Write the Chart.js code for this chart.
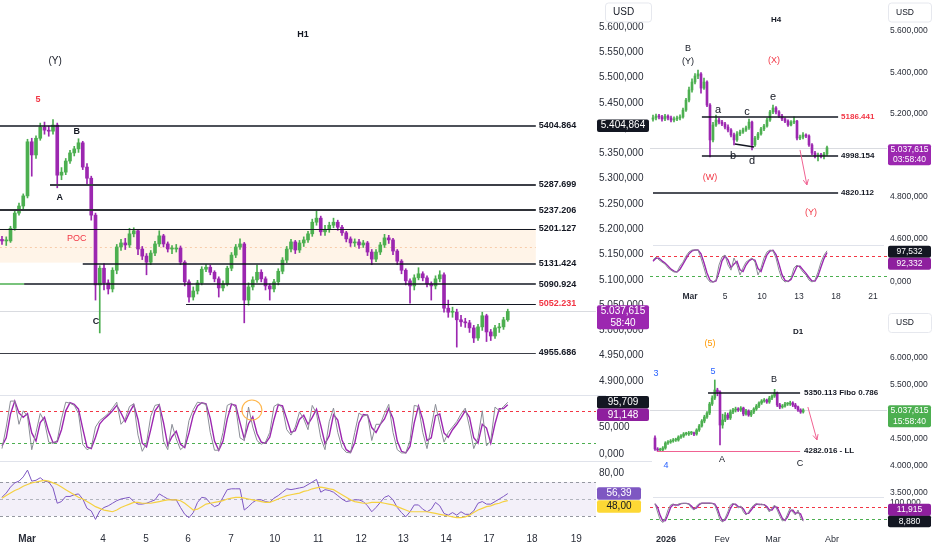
<!DOCTYPE html>
<html><head><meta charset="utf-8">
<script src="https://cdn.jsdelivr.net/npm/chart.js@4.4.1/dist/chart.umd.min.js"></script>
<style>
html,body{margin:0;padding:0;background:#fff;width:932px;height:550px;overflow:hidden;position:relative;}
canvas{position:absolute;}
</style></head><body>
<canvas id="h1p" style="left:0px;top:0px" width="652" height="395"></canvas>
<canvas id="h1s" style="left:0px;top:395px" width="652" height="66"></canvas>
<canvas id="h1r" style="left:0px;top:461px" width="652" height="89"></canvas>
<canvas id="h4p" style="left:650px;top:0px" width="282" height="245"></canvas>
<canvas id="h4s" style="left:650px;top:245px" width="282" height="61"></canvas>
<canvas id="d1p" style="left:650px;top:308px" width="282" height="189"></canvas>
<canvas id="d1s" style="left:650px;top:497px" width="282" height="53"></canvas>
<script>
// ================= DATA =================
// ---- H1 (one bar every ~2h) ----
const h1Open  = [5180,5177,5177,5202,5232,5246,5266,5373,5347,5380,5402,5396,5394,5406,5307,5313,5335,5351,5359,5371,5323,5301,5228,5090,5123,5094,5082,5119,5165,5173,5169,5191,5197,5161,5147,5135,5153,5171,5187,5171,5161,5161,5163,5135,5096,5066,5078,5094,5121,5125,5115,5102,5084,5092,5123,5149,5165,5171,5060,5086,5100,5115,5102,5088,5082,5096,5117,5139,5161,5175,5159,5173,5179,5191,5214,5222,5195,5200,5208,5214,5204,5193,5181,5173,5175,5169,5173,5155,5141,5155,5169,5183,5179,5157,5137,5119,5098,5088,5104,5112,5104,5092,5088,5102,5110,5044,5036,5036,5021,5017,5015,5005,4985,5007,5029,4997,4989,5005,5007,5021];
const h1High  = [5186,5185,5206,5236,5252,5270,5378,5380,5385,5410,5412,5404,5417,5410,5322,5340,5356,5364,5379,5374,5330,5305,5232,5128,5132,5100,5124,5170,5180,5182,5202,5203,5200,5166,5152,5158,5176,5197,5190,5175,5168,5170,5167,5138,5100,5086,5099,5126,5130,5129,5118,5106,5098,5127,5154,5170,5181,5174,5094,5106,5129,5120,5106,5092,5101,5122,5144,5166,5180,5178,5178,5185,5196,5220,5236,5226,5208,5214,5222,5218,5208,5196,5185,5181,5180,5178,5176,5160,5160,5174,5190,5188,5182,5160,5140,5122,5102,5110,5124,5116,5108,5096,5108,5118,5114,5060,5046,5042,5030,5024,5020,5010,5012,5036,5032,5002,5010,5014,5026,5042];
const h1Low   = [5170,5168,5174,5198,5228,5240,5262,5305,5340,5376,5388,5384,5388,5282,5298,5308,5330,5345,5352,5318,5290,5218,5060,4995,5080,5072,5076,5112,5158,5160,5164,5185,5150,5140,5110,5130,5148,5166,5165,5155,5152,5155,5130,5088,5056,5060,5072,5090,5116,5110,5096,5066,5078,5088,5118,5144,5160,5015,5050,5080,5095,5096,5080,5060,5076,5090,5112,5134,5155,5152,5154,5166,5174,5186,5208,5188,5188,5194,5203,5198,5188,5175,5166,5166,5162,5164,5148,5130,5136,5150,5164,5172,5150,5130,5112,5090,5054,5080,5100,5098,5086,5060,5082,5096,5036,5026,5026,4967,5008,5006,4996,4976,4980,5000,4978,4980,4984,4996,5002,5018];
const h1Close = [5177,5177,5202,5232,5246,5266,5373,5347,5380,5402,5396,5394,5406,5307,5313,5335,5351,5359,5371,5323,5301,5228,5090,5123,5094,5082,5119,5165,5173,5169,5191,5197,5161,5147,5135,5153,5171,5187,5171,5161,5161,5163,5135,5096,5066,5078,5094,5121,5125,5115,5102,5084,5092,5123,5149,5165,5171,5060,5086,5100,5115,5102,5088,5082,5096,5117,5139,5161,5175,5159,5173,5179,5191,5214,5222,5195,5200,5208,5214,5204,5193,5181,5173,5175,5169,5173,5155,5141,5155,5169,5183,5179,5157,5137,5119,5098,5088,5104,5112,5104,5092,5088,5102,5110,5044,5036,5036,5021,5017,5015,5005,4985,5007,5029,4997,4989,5005,5007,5021,5037.615];
const h1StochK = [10,50,98,98,55,80,70,8,40,75,60,22,20,25,65,96,94,90,75,18,8,12,50,62,68,75,85,96,55,65,88,93,35,5,20,70,90,92,24,8,55,28,8,15,62,82,96,94,92,40,7,7,40,90,94,86,30,25,87,50,25,18,22,40,88,93,85,45,35,50,78,65,45,90,75,30,8,60,85,40,12,3,2,40,76,70,73,25,55,55,75,92,40,8,2,2,25,90,88,40,10,50,92,55,22,40,50,60,74,85,50,10,30,80,15,25,87,80,88,95.709];
const h1StochD = [15,30,74,98,76,68,75,39,24,58,68,41,21,23,45,80,95,92,83,47,13,10,31,56,65,72,80,90,76,60,77,91,64,20,13,45,80,91,58,16,32,42,18,12,39,72,89,95,93,66,24,7,24,65,92,90,58,28,56,69,38,22,20,31,64,91,89,65,40,43,64,72,55,68,83,53,19,34,73,63,26,8,3,21,58,73,72,49,40,55,65,84,66,24,5,2,14,58,89,64,25,30,71,74,39,31,45,55,67,80,68,30,20,55,48,20,56,84,84,91.148];
const h1Rsi = [52,57,64,69,71,76,84,71,72,75,71,70,63,45,47,53,53,55,56,50,39,36,26,36,40,42,45,48,50,51,52,47,44,44,45,47,49,56,53,50,49,49,40,32,28,34,46,52,51,45,41,43,52,61,62,62,62,37,41,46,49,49,47,46,51,54,58,62,61,62,63,64,67,70,73,58,61,60,58,54,50,47,48,49,49,47,42,35,40,46,52,54,49,40,34,29,35,43,43,38,35,38,46,42,33,31,34,31,35,32,32,36,45,47,44,44,47,50,53,56.39];
const h1RsiMa = [51,54,57,60,62,65,67,69,70,71,72,71,69,67,64,61,58,55,52,50,47,44,41,39,37,36,35,37,40,42,44,46,46,45,45,45,46,47,48,49,49,49,48,45,41,37,38,41,44,45,46,47,48,50,51,52,52,51,50,49,48,47,46,46,48,50,52,54,55,56,57,59,60,62,63,64,63,62,61,58,55,52,49,47,46,45,45,46,46,46,45,44,43,41,39,37,35,35,35,35,35,34,33,32,31,30,29,28,28,29,31,34,37,39,41,42,44,45,47,48];
const h1PriceTicks = [4900,4950,5000,5050,5100,5150,5200,5250,5300,5350,5400,5450,5500,5550,5600];
const h1DateTickPos = [5.9,23.8,33.9,43.8,53.9,64.2,74.4,84.5,94.4,104.5,114.6,124.7,135.1];
const h1DateTickLabels = ['Mar','4','5','6','7','10','11','12','13','14','17','18','19'];
const h1Levels = [5404.864,5287.699,5237.206,5201.127,5131.424,5090.924,5052.231,4955.686];
const h1PocZone = [5134,5201.127];
const h1PocLevel = 5165;
const h1Marked = 5404.864;

// ---- H4 ----
const h4Open  = [5175,5181,5190,5186,5176,5190,5181,5171,5176,5181,5186,5219,5267,5316,5354,5383,5393,5325,5354,5243,5075,5147,5171,5161,5152,5137,5123,5099,5075,5104,5113,5123,5133,5161,5051,5084,5104,5128,5142,5171,5210,5229,5210,5190,5176,5166,5147,5161,5166,5084,5089,5099,5094,5051,5012,4998,5002,4998,5007];
const h4High  = [5195,5200,5198,5194,5198,5196,5190,5186,5190,5196,5228,5276,5330,5370,5395,5412,5400,5373,5360,5250,5160,5195,5180,5170,5160,5148,5130,5108,5115,5122,5132,5142,5176,5166,5092,5112,5136,5150,5180,5218,5243,5236,5216,5198,5182,5172,5168,5186,5170,5098,5110,5104,5100,5058,5020,5012,5010,5015,5045];
const h4Low   = [5166,5172,5176,5166,5168,5172,5162,5162,5168,5172,5180,5212,5258,5305,5345,5370,5300,5318,5235,4993,5066,5140,5152,5144,5128,5114,5090,5051,5068,5096,5106,5116,5126,5027,5044,5076,5098,5120,5136,5164,5202,5200,5182,5168,5158,5140,5142,5154,5075,5076,5080,5086,5044,5004,4988,4974,4988,4983,5000];
const h4Close = [5181,5190,5186,5176,5190,5181,5171,5176,5181,5186,5219,5267,5316,5354,5383,5393,5325,5354,5243,5075,5147,5171,5161,5152,5137,5123,5099,5075,5104,5113,5123,5133,5161,5051,5084,5104,5128,5142,5171,5210,5229,5210,5190,5176,5166,5147,5161,5166,5084,5089,5099,5094,5051,5012,4998,5002,4998,5007,5037.615];
const h4StochK = [69,78,69,62,56,44,37,31,31,50,62,81,94,100,100,100,75,44,12,0,0,6,53,78,84,53,37,75,53,22,44,62,69,75,62,22,44,75,94,100,97,75,37,9,0,3,12,44,53,44,31,22,6,0,6,31,62,84,97.532];
const h4StochD = [65,74,74,66,59,50,40,34,31,40,56,72,88,97,100,100,88,60,28,6,0,3,30,66,81,69,45,56,64,38,33,53,66,72,68,42,33,60,85,97,99,86,56,23,5,2,8,28,49,49,38,27,14,3,3,19,47,73,92.332];
const h4PriceTicks = [4600,4800,5200,5400,5600];
const h4DateTickPos = [12.33,24,36.33,48.67,61,73.33];
const h4DateTickLabels = ['Mar','5','10','13','18','21'];
const h4Levels = [5186.441,4998.154,4820.112];

// ---- D1 ----
const d1Open  = [4519,4315,4296,4296,4333,4426,4444,4463,4481,4481,4537,4556,4593,4593,4611,4611,4593,4667,4741,4833,4907,4981,5148,5259,5407,5370,4759,4852,4944,4889,5000,5037,5056,5037,5074,4963,5019,4944,5000,5056,5111,5167,5204,5222,5185,5259,5296,5352,5130,5093,5111,5148,5148,5167,5130,5093,5037,5000];
const d1High  = [4560,4340,4330,4360,4450,4470,4490,4510,4515,4560,4580,4620,4625,4640,4640,4630,4690,4770,4860,4940,5010,5180,5300,5593,5440,5390,4960,4990,4980,5040,5070,5090,5080,5100,5090,5050,5040,5030,5080,5140,5190,5230,5250,5240,5290,5320,5420,5370,5160,5140,5180,5175,5200,5190,5160,5110,5060,5060];
const d1Low   = [4290,4270,4282,4275,4310,4400,4420,4440,4455,4460,4510,4530,4570,4565,4580,4560,4570,4640,4720,4800,4880,4950,5120,5230,5300,4389,4700,4820,4860,4860,4970,5000,5010,5010,4930,4940,4920,4915,4970,5030,5080,5140,5180,5160,5160,5230,5270,5100,5060,5070,5090,5120,5120,5100,5060,5010,4975,4980];
const d1Close = [4315,4296,4296,4333,4426,4444,4463,4481,4481,4537,4556,4593,4593,4611,4611,4593,4667,4741,4833,4907,4981,5148,5259,5407,5370,4759,4852,4944,4889,5000,5037,5056,5037,5074,4963,5019,4944,5000,5056,5111,5167,5204,5222,5185,5259,5296,5352,5130,5093,5111,5148,5148,5167,5130,5093,5037,5000,5037.615];
const d1StochK = [98,55,15,2,25,65,90,95,85,95,98,98,98,95,75,65,85,98,99,99,99,99,98,90,55,15,5,25,55,90,98,90,75,85,55,40,55,75,90,98,90,95,90,75,55,75,90,65,35,10,15,45,75,55,40,65,25,8.88];
const d1StochD = [95,78,38,10,12,42,78,92,90,90,97,98,98,96,85,70,75,92,99,99,99,99,98,94,73,35,10,15,40,72,94,94,82,80,70,47,48,65,82,94,94,92,92,82,65,65,82,78,50,22,12,30,60,65,48,52,45,11.915];
const d1PriceTicks = [3500,4000,4500,5500,6000];
const d1DateTickPos = [4.2,25.8,45.4,68.1];
const d1DateTickLabels = ['2026','Fev','Mar','Abr'];
const d1Levels = [5350.113,4282.016];

// ================= STYLE / LAYOUT =================
const F = '"Liberation Sans", Arial, sans-serif';
const UP = '#4caf50', DN = '#9c27b0';
const TXT = '#131722';
const PINK = '#f06292';
const RED = '#f23645';

function fmtDE(v, d) {
  const s = Math.abs(v).toFixed(d);
  const p = s.split('.');
  const int = p[0].replace(/\B(?=(\d{3})+(?!\d))/g, '.');
  return (v < 0 ? '-' : '') + (p[1] ? int + ',' + p[1] : int);
}
const last = a => a[a.length - 1];

const annotPlugin = {
  id: 'annot',
  beforeDatasetsDraw(c, a, o) { drawItems(c, o.under, o); },
  afterDatasetsDraw(c, a, o) { drawItems(c, o.over, o); },
  afterDraw(c, a, o) { drawItems(c, o.top, o); }
};
function drawItems(c, items, o) {
  if (!items) return;
  const ctx = c.ctx, xs = c.scales.x, ys = c.scales.y, ca = c.chartArea;
  const X = v => xs.getPixelForValue(v);
  const Y = v => ys.getPixelForValue(v);
  const bf = o.boxFont || 10, lh = o.boxLine || 11.5;
  for (const it of items) {
    ctx.save();
    if (it.t === 'hline') {
      const x0 = it.x0 === undefined ? ca.left : X(it.x0);
      const x1 = it.x1 === undefined ? ca.right : X(it.x1);
      const w = it.w || 1;
      const y = Math.round(Y(it.y)) + ((Math.round(w) % 2) ? 0.5 : 0);
      ctx.strokeStyle = it.c; ctx.lineWidth = w; ctx.setLineDash(it.dash || []);
      ctx.beginPath(); ctx.moveTo(x0, y); ctx.lineTo(x1, y); ctx.stroke();
    } else if (it.t === 'rect') {
      const x0 = it.x0 === undefined ? ca.left : X(it.x0);
      const x1 = it.x1 === undefined ? ca.right : X(it.x1);
      const y0 = Y(it.y0), y1 = Y(it.y1);
      ctx.fillStyle = it.c; ctx.fillRect(x0, Math.min(y0, y1), x1 - x0, Math.abs(y1 - y0));
    } else if (it.t === 'seg') {
      const x0 = X(it.x0), y0 = Y(it.y0), x1 = X(it.x1), y1 = Y(it.y1);
      ctx.strokeStyle = it.c; ctx.lineWidth = it.w || 1;
      ctx.beginPath(); ctx.moveTo(x0, y0); ctx.lineTo(x1, y1); ctx.stroke();
      if (it.arrow) {
        const ang = Math.atan2(y1 - y0, x1 - x0), L = it.arrow;
        ctx.beginPath();
        ctx.moveTo(x1 - L * Math.cos(ang - 0.45), y1 - L * Math.sin(ang - 0.45));
        ctx.lineTo(x1, y1);
        ctx.lineTo(x1 - L * Math.cos(ang + 0.45), y1 - L * Math.sin(ang + 0.45));
        ctx.stroke();
      }
    } else if (it.t === 'text') {
      ctx.font = it.f; ctx.fillStyle = it.c || TXT;
      ctx.textAlign = it.a || 'center'; ctx.textBaseline = 'middle';
      ctx.fillText(it.s, X(it.x), Y(it.y));
    } else if (it.t === 'circle') {
      ctx.strokeStyle = it.c; ctx.lineWidth = it.w || 1;
      ctx.beginPath(); ctx.arc(X(it.x), Y(it.y), it.r, 0, Math.PI * 2); ctx.stroke();
    } else if (it.t === 'box') {
      const bx = ca.right + (it.dx || 1);
      const bw = it.bw || (c.width - ca.right - 2);
      const cy = Y(it.yref !== undefined ? it.yref : it.y) + (it.dy || 0);
      const top = cy - lh / 2 - 0.5, h = it.lines.length * lh + 1;
      ctx.fillStyle = it.bg;
      ctx.beginPath();
      if (ctx.roundRect) ctx.roundRect(bx, top, bw, h, 2); else ctx.rect(bx, top, bw, h);
      ctx.fill();
      ctx.fillStyle = it.fg; ctx.font = bf + 'px ' + F;
      ctx.textAlign = 'center'; ctx.textBaseline = 'middle';
      it.lines.forEach((s, k) => ctx.fillText(s, bx + bw / 2, cy + k * lh));
    } else if (it.t === 'usd') {
      const bx = ca.right + it.dx, bw = c.width - bx - 1;
      const cy = Y(it.y);
      ctx.fillStyle = '#fff'; ctx.strokeStyle = '#e6e8ee'; ctx.lineWidth = 1;
      ctx.beginPath();
      if (ctx.roundRect) ctx.roundRect(bx + 0.5, cy - 9.5, bw, 19, 3); else ctx.rect(bx + 0.5, cy - 9.5, bw, 19);
      ctx.fill(); ctx.stroke();
      ctx.fillStyle = TXT; ctx.font = bf + 'px ' + F; ctx.textAlign = 'left'; ctx.textBaseline = 'middle';
      ctx.fillText('USD', bx + 8, cy);
    } else if (it.t === 'sep') {
      ctx.strokeStyle = it.c || '#e0e3eb'; ctx.lineWidth = 1;
      const y = Math.round(ca.top) + 0.5;
      ctx.beginPath(); ctx.moveTo(it.x0, y); ctx.lineTo(it.x1, y); ctx.stroke();
    }
    ctx.restore();
  }
}

function candleSets(o, h, l, c, bodyW) {
  const col = c.map((v, i) => (v >= o[i] ? UP : DN));
  return [
    { type: 'bar', data: l.map((v, i) => ({ x: i, y: [v, h[i]] })), backgroundColor: col, borderWidth: 0, barThickness: 1, grouped: false, order: 2 },
    { type: 'bar', data: o.map((v, i) => ({ x: i, y: [v, c[i]] })), backgroundColor: col, borderWidth: 0, barThickness: bodyW, minBarLength: 1, grouped: false, order: 1 }
  ];
}
function lineSet(vals, color, w) {
  return { type: 'line', data: vals.map((v, i) => ({ x: i, y: v })), borderColor: color, borderWidth: w, pointRadius: 0, tension: 0, fill: false };
}
function yAxis(min, max, ticks, dec, width, fs) {
  return {
    position: 'right', min, max, bounds: 'data',
    grid: { display: false, drawTicks: false }, border: { display: false },
    ticks: { padding: 3, color: '#2a2e39', font: { size: fs || 10, family: F }, autoSkip: false, callback: v => fmtDE(v, dec) },
    afterBuildTicks: s => { s.ticks = ticks.map(v => ({ value: v })); },
    afterFit: s => { s.width = width; s.paddingTop = 0; s.paddingBottom = 0; }
  };
}
function xAxis(min, max, pos, labels, bold, h, pad, fs) {
  const base = { type: 'linear', min, max, bounds: 'data', offset: false, grid: { display: false, drawTicks: false }, border: { display: false } };
  if (!pos) return Object.assign(base, { display: false });
  return Object.assign(base, {
    display: true,
    ticks: {
      autoSkip: false, maxRotation: 0, minRotation: 0, padding: pad, color: '#2a2e39',
      font: ctx => ({ size: fs || 10, family: F, weight: bold.includes(labels[ctx.index]) ? 'bold' : 'normal' }),
      callback: (v, i) => labels[i]
    },
    afterBuildTicks: s => { s.ticks = pos.map(v => ({ value: v })); },
    afterFit: s => { s.height = h; s.paddingLeft = 0; s.paddingRight = 0; }
  });
}
function mk(id, type, datasets, x, y, annot) {
  return new Chart(document.getElementById(id), {
    type, data: { datasets },
    options: {
      responsive: false, animation: false, events: [], layout: { padding: 0 },
      scales: { x, y },
      plugins: { legend: { display: false }, tooltip: { enabled: false }, annot }
    },
    plugins: [annotPlugin]
  });
}

// ---------- H1 price ----------
const H1X = [-0.47, 139.76];
const h1LevelLayout = { start: [-0.5, 11.3, -0.5, -0.5, 19, 5.2, 43.3, -0.5], width: [1.5, 2, 2, 1.2, 1.5, 1.5, 1.2, 1.2], color: ['#131722', '#3c3f47', '#2f3238', '#131722', '#131722', '#131722', '#131722', '#3c3f47'], label: [TXT, TXT, TXT, TXT, TXT, TXT, RED, TXT], end: 125.6, labelX: 126.3 };
const LB = 'bold 9px ' + F;
const LS = 'bold 8px ' + F;
const h1Over = [];
h1Levels.forEach((v, k) => {
  h1Over.push({ t: 'hline', y: v, x0: h1LevelLayout.start[k], x1: h1LevelLayout.end, c: h1LevelLayout.color[k], w: h1LevelLayout.width[k] });
  h1Over.push({ t: 'text', x: h1LevelLayout.labelX, y: v, s: v.toFixed(3), c: h1LevelLayout.label[k], f: LB, a: 'left' });
});
h1Over.push({ t: 'hline', y: h1Levels[5], x0: -0.5, x1: 5.2, c: '#4caf50', w: 1.5 });
h1Over.push(
  { t: 'text', x: 70.8, y: 5586, s: 'H1', f: LB },
  { t: 'text', x: 12.5, y: 5533, s: '(Y)', f: '10px ' + F },
  { t: 'text', x: 8.5, y: 5456, s: '5', f: LB, c: RED },
  { t: 'text', x: 17.6, y: 5394, s: 'B', f: LB },
  { t: 'text', x: 13.6, y: 5262, s: 'A', f: LB },
  { t: 'text', x: 22.1, y: 5017, s: 'C', f: LB },
  { t: 'text', x: 17.6, y: 5181, s: 'POC', f: '9px ' + F, c: RED }
);
mk('h1p', 'bar', candleSets(h1Open, h1High, h1Low, h1Close, 3),
  xAxis(H1X[0], H1X[1]), yAxis(4872.30, 5653.39, h1PriceTicks, 3, 56), {
    under: [
      { t: 'rect', x0: -0.5, x1: h1LevelLayout.end, y0: h1PocZone[0], y1: h1PocZone[1], c: 'rgba(255,190,120,0.17)' },
      { t: 'hline', y: h1PocLevel, x0: -0.5, x1: h1LevelLayout.end, c: 'rgba(240,170,120,0.55)', w: 1, dash: [2, 3] },
      { t: 'hline', y: last(h1Close), c: '#d9dbe0', w: 1 }
    ],
    over: h1Over,
    top: [
      { t: 'usd', y: 5628.7, dx: 9 },
      { t: 'box', y: h1Marked, lines: [fmtDE(h1Marked, 3)], bg: '#131722', fg: '#fff', bw: 52 },
      { t: 'box', y: last(h1Close), lines: [fmtDE(last(h1Close), 3), '58:40'], bg: '#9c27b0', fg: '#fff', bw: 52 }
    ]
  });

// ---------- H1 stochastic ----------
mk('h1s', 'line', [lineSet(h1StochK, '#8a8d96', 1), lineSet(h1StochD, '#9c27b0', 1.4)],
  xAxis(H1X[0], H1X[1]), yAxis(-12.96, 109.26, [0, 50], 3, 56), {
    under: [
      { t: 'sep', x0: 0, x1: 606 },
      { t: 'hline', y: 80, c: RED, w: 1, dash: [3, 3] },
      { t: 'hline', y: 20, c: '#4caf50', w: 1, dash: [3, 3] }
    ],
    over: [{ t: 'circle', x: 58.8, y: 81.5, r: 10, c: '#ffb74d', w: 1.2 }],
    top: [
      { t: 'box', y: last(h1StochK), lines: [fmtDE(last(h1StochK), 3)], bg: '#131722', fg: '#fff', bw: 52 },
      { t: 'box', y: last(h1StochD), yref: last(h1StochK), dy: 12.5, lines: [fmtDE(last(h1StochD), 3)], bg: '#8e1f9e', fg: '#fff', bw: 52 }
    ]
  });

// ---------- H1 RSI + date axis ----------
mk('h1r', 'line', [lineSet(h1RsiMa, '#f5d142', 1.2), lineSet(h1Rsi, '#7e57c2', 1)],
  xAxis(H1X[0], H1X[1], h1DateTickPos, h1DateTickLabels, ['Mar'], 20, 3), yAxis(13.53, 94.7, [80], 2, 56), {
    under: [
      { t: 'sep', x0: 0, x1: 652 },
      { t: 'rect', y0: 30, y1: 70, c: 'rgba(126,87,194,0.09)' },
      { t: 'hline', y: 70, c: '#9598a1', w: 1, dash: [3, 3] },
      { t: 'hline', y: 50, c: '#b2b5be', w: 1, dash: [3, 3] },
      { t: 'hline', y: 30, c: '#9598a1', w: 1, dash: [3, 3] }
    ],
    top: [
      { t: 'box', y: last(h1Rsi), lines: [fmtDE(last(h1Rsi), 2)], bg: '#7e57c2', fg: '#fff', bw: 44 },
      { t: 'box', y: last(h1RsiMa), yref: last(h1Rsi), dy: 13, lines: [fmtDE(last(h1RsiMa), 2)], bg: '#fdd835', fg: TXT, bw: 44 }
    ]
  });

// ---------- H4 price ----------
const H4X = [-1, 78];
const h4Layout = { start: [16.3, 16.3, 0], end: 61.7, labelX: 62.7, label: [RED, TXT, TXT] };
const h4Over = [];
h4Levels.forEach((v, k) => {
  h4Over.push({ t: 'hline', y: v, x0: h4Layout.start[k], x1: h4Layout.end, c: '#131722', w: 1.5 });
  h4Over.push({ t: 'text', x: h4Layout.labelX, y: v, s: v.toFixed(3), c: h4Layout.label[k], f: LS, a: 'left' });
});
h4Over.push(
  { t: 'seg', x0: 27.3, y0: 5055, x1: 33.7, y1: 5041, c: '#131722', w: 1.5 },
  { t: 'seg', x0: 49, y0: 5027, x1: 51.3, y1: 4858, c: PINK, w: 1, arrow: 6 },
  { t: 'text', x: 41, y: 5653, s: 'H4', f: LS },
  { t: 'text', x: 11.7, y: 5518, s: 'B', f: '9px ' + F },
  { t: 'text', x: 11.7, y: 5455, s: '(Y)', f: '9px ' + F },
  { t: 'text', x: 40.3, y: 5460, s: '(X)', f: '9px ' + F, c: RED },
  { t: 'text', x: 21.7, y: 5219, s: 'a', f: '11px ' + F },
  { t: 'text', x: 31.3, y: 5210, s: 'c', f: '11px ' + F },
  { t: 'text', x: 40, y: 5282, s: 'e', f: '11px ' + F },
  { t: 'text', x: 26.7, y: 4998, s: 'b', f: '11px ' + F },
  { t: 'text', x: 33, y: 4973, s: 'd', f: '11px ' + F },
  { t: 'text', x: 19, y: 4892, s: '(W)', f: '9px ' + F, c: RED },
  { t: 'text', x: 52.7, y: 4723, s: '(Y)', f: '9px ' + F, c: RED }
);
mk('h4p', 'bar', candleSets(h4Open, h4High, h4Low, h4Close, 2),
  xAxis(H4X[0], H4X[1]), yAxis(4568.7, 5749.4, h4PriceTicks, 3, 45, 8.5), {
    boxFont: 8.5, boxLine: 10,
    under: [{ t: 'hline', y: last(h4Close), c: '#d9dbe0', w: 1 }],
    over: h4Over,
    top: [
      { t: 'usd', y: 5689, dx: 1 },
      { t: 'box', y: last(h4Close), dy: 2, lines: [fmtDE(last(h4Close), 3), '03:58:40'], bg: '#9c27b0', fg: '#fff' }
    ]
  });

// ---------- H4 stochastic ----------
mk('h4s', 'line', [lineSet(h4StochK, '#8a8d96', 1), lineSet(h4StochD, '#9c27b0', 1.4)],
  xAxis(H4X[0], H4X[1], h4DateTickPos, h4DateTickLabels, ['Mar'], 16, 2, 8.5), yAxis(-25, 115.6, [0], 3, 45, 8.5), {
    boxFont: 8.5, boxLine: 11,
    under: [
      { t: 'sep', x0: 3, x1: 234 },
      { t: 'hline', y: 80, c: RED, w: 1, dash: [3, 3] },
      { t: 'hline', y: 20, c: '#4caf50', w: 1, dash: [3, 3] }
    ],
    top: [
      { t: 'box', y: last(h4StochK), dy: 1, lines: [fmtDE(last(h4StochK), 3)], bg: '#131722', fg: '#fff' },
      { t: 'box', y: last(h4StochD), yref: last(h4StochK), dy: 13, lines: [fmtDE(last(h4StochD), 3)], bg: '#8e1f9e', fg: '#fff' }
    ]
  });

// ---------- D1 price ----------
const D1X = [-1.92, 89.23];
const d1Layout = { start: [20.4, 0.8], end: 55.8, labelX: 57.3, text: [' Fibo 0.786', ' - LL'], color: ['#131722', PINK], width: [1.5, 1] };
const d1Over = [];
d1Levels.forEach((v, k) => {
  d1Over.push({ t: 'hline', y: v, x0: d1Layout.start[k], x1: d1Layout.end, c: d1Layout.color[k], w: d1Layout.width[k] });
  d1Over.push({ t: 'text', x: d1Layout.labelX, y: v, s: v.toFixed(3) + d1Layout.text[k], c: TXT, f: LS, a: 'left' });
});
d1Over.push(
  { t: 'seg', x0: 58.8, y0: 5093, x1: 62.3, y1: 4481, c: PINK, w: 1, arrow: 6 },
  { t: 'text', x: 55, y: 6482, s: 'D1', f: LS },
  { t: 'text', x: 21.2, y: 6259, s: '(5)', f: '9px ' + F, c: '#ff9800' },
  { t: 'text', x: 22.3, y: 5741, s: '5', f: '9px ' + F, c: '#2962ff' },
  { t: 'text', x: 0.4, y: 5704, s: '3', f: '9px ' + F, c: '#2962ff' },
  { t: 'text', x: 4.2, y: 4018, s: '4', f: '9px ' + F, c: '#2962ff' },
  { t: 'text', x: 25.8, y: 4111, s: 'A', f: '9px ' + F },
  { t: 'text', x: 45.8, y: 5593, s: 'B', f: '9px ' + F },
  { t: 'text', x: 55.8, y: 4037, s: 'C', f: '9px ' + F }
);
mk('d1p', 'bar', candleSets(d1Open, d1High, d1Low, d1Close, 2),
  xAxis(D1X[0], D1X[1]), yAxis(3425.9, 6925.9, d1PriceTicks, 3, 45, 8.5), {
    boxFont: 8.5, boxLine: 10.5,
    under: [{ t: 'hline', y: last(d1Close), c: '#d9dbe0', w: 1 }],
    over: d1Over,
    top: [
      { t: 'usd', y: 6648, dx: 1 },
      { t: 'box', y: last(d1Close), dy: 1, lines: [fmtDE(last(d1Close), 3), '15:58:40'], bg: '#4caf50', fg: '#fff' }
    ]
  });

// ---------- D1 stochastic ----------
mk('d1s', 'line', [lineSet(d1StochK, '#8a8d96', 1), lineSet(d1StochD, '#9c27b0', 1.4)],
  xAxis(D1X[0], D1X[1], d1DateTickPos, d1DateTickLabels, ['2026'], 20, 4, 9), yAxis(-35, 130, [100], 3, 45, 8.5), {
    boxFont: 8.5, boxLine: 11,
    under: [
      { t: 'sep', x0: 3, x1: 234 },
      { t: 'hline', y: 80, c: RED, w: 1, dash: [3, 3] },
      { t: 'hline', y: 20, c: '#4caf50', w: 1, dash: [3, 3] }
    ],
    top: [
      { t: 'box', y: last(d1StochK), lines: [fmtDE(last(d1StochK), 3)], bg: '#131722', fg: '#fff' },
      { t: 'box', y: last(d1StochD), yref: last(d1StochK), dy: -11.5, lines: [fmtDE(last(d1StochD), 3)], bg: '#8e1f9e', fg: '#fff' }
    ]
  });
</script>
</body></html>
